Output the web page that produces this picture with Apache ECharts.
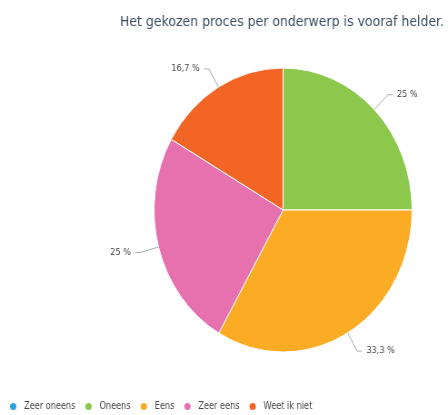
<!DOCTYPE html>
<html>
<head>
<meta charset="utf-8">
<script src="https://cdn.jsdelivr.net/npm/echarts@6/dist/echarts.min.js"></script>
<style>
  html, body { margin: 0; padding: 0; background: #fff; overflow: hidden; }
  .wrap { width: 448px; height: 415px; overflow: hidden; }
  /* the original picture is squeezed sideways, so draw wider and scale down */
  .chart { width: 493px; height: 415px; transform: scaleX(0.9087); transform-origin: 0 0; }
</style>
</head>
<body>
<div class="wrap"><div class="chart"></div></div>
<script>
var categories = ["Zeer oneens", "Oneens", "Eens", "Zeer eens", "Weet ik niet"];
var values = [0, 25, 33.3, 25, 16.7];
var colors = ["#2aa3dd", "#8cc84b", "#fcab25", "#e770ae", "#f26524"];

(function(){
    var myChart = echarts.init(document.querySelector(".chart"));

    var data = categories.map(function(name, i) {
        var item = {name: name, value: values[i]};
        if (values[i] === 0) {
            item.label = {show: false};
            item.labelLine = {show: false};
        }
        return item;
    });

    var option = {
        animation: false,
        color: colors,
        textStyle: {fontFamily: "DejaVu Sans"},
        title: {
            text: "Het gekozen proces per onderwerp is vooraf helder.",
            left: 127,
            top: 10,
            textStyle: {
                fontSize: 13.75,
                fontWeight: "normal",
                color: "#3b4d62",
                fontFamily: "DejaVu Sans"
            }
        },
        legend: {
            data: categories,
            left: 4,
            top: 396,
            icon: "circle",
            itemWidth: 14,
            itemHeight: 9,
            itemGap: 9,
            textStyle: {fontSize: 10, color: "#444", fontFamily: "DejaVu Sans Condensed"}
        },
        series: [
            {
                type: "pie",
                center: [311.5, 210],
                radius: 142,
                startAngle: 90,
                clockwise: true,
                percentPrecision: 1,
                data: data,
                itemStyle: {borderColor: "#fff", borderWidth: 1},
                label: {
                    formatter: function(p) {
                        return String(p.percent).replace(".", ",") + " %";
                    },
                    fontSize: 9,
                    color: "#444",
                    fontFamily: "DejaVu Sans"
                },
                labelLine: {
                    length: 21,
                    length2: 5,
                    lineStyle: {color: "#aaa", width: 1}
                }
            }
        ]
    };

    myChart.setOption(option);
})();
</script>
</body>
</html>
